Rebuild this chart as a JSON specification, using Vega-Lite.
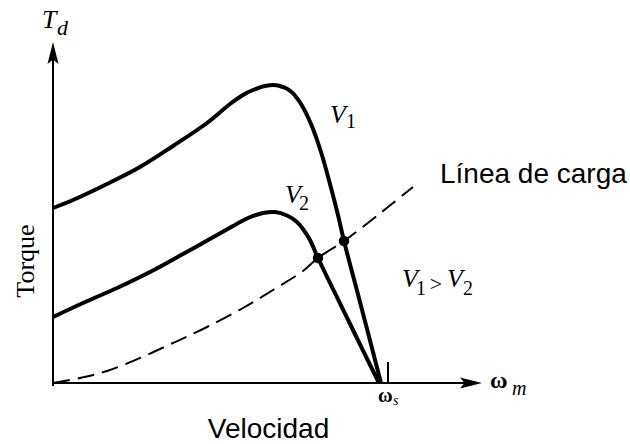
{
  "$schema": "https://vega.github.io/schema/vega-lite/v6.json",
  "width": 630,
  "height": 444,
  "padding": 0,
  "autosize": "none",
  "background": "white",
  "config": {"view": {"stroke": null}},
  "datasets": {
    "load": [
      {"x": 0, "y": 0}, {"x": 27, "y": 5}, {"x": 54, "y": 12}, {"x": 87, "y": 25},
      {"x": 120, "y": 40}, {"x": 154, "y": 56}, {"x": 190, "y": 75}, {"x": 220, "y": 93},
      {"x": 250, "y": 112}, {"x": 265, "y": 125}, {"x": 291, "y": 142}, {"x": 320, "y": 164},
      {"x": 340, "y": 180}, {"x": 360, "y": 196}
    ],
    "curves": [
      {"curve": "V1", "x": 0, "y": 175}, {"curve": "V1", "x": 20, "y": 183},
      {"curve": "V1", "x": 54, "y": 199}, {"curve": "V1", "x": 87, "y": 216},
      {"curve": "V1", "x": 120, "y": 237}, {"curve": "V1", "x": 154, "y": 260},
      {"curve": "V1", "x": 177, "y": 279}, {"curve": "V1", "x": 190, "y": 288},
      {"curve": "V1", "x": 200, "y": 293}, {"curve": "V1", "x": 212, "y": 297},
      {"curve": "V1", "x": 225, "y": 297.5}, {"curve": "V1", "x": 238, "y": 291.5},
      {"curve": "V1", "x": 248, "y": 279}, {"curve": "V1", "x": 258, "y": 259},
      {"curve": "V1", "x": 268, "y": 231}, {"curve": "V1", "x": 277, "y": 199},
      {"curve": "V1", "x": 285, "y": 168}, {"curve": "V1", "x": 291, "y": 142},
      {"curve": "V1", "x": 307, "y": 81}, {"curve": "V1", "x": 328, "y": 0},
      {"curve": "V2", "x": 0, "y": 66}, {"curve": "V2", "x": 30, "y": 80},
      {"curve": "V2", "x": 64, "y": 95}, {"curve": "V2", "x": 97, "y": 111},
      {"curve": "V2", "x": 130, "y": 129}, {"curve": "V2", "x": 164, "y": 148},
      {"curve": "V2", "x": 180, "y": 157}, {"curve": "V2", "x": 195, "y": 165},
      {"curve": "V2", "x": 210, "y": 170}, {"curve": "V2", "x": 222, "y": 171},
      {"curve": "V2", "x": 234, "y": 167.5}, {"curve": "V2", "x": 244, "y": 161},
      {"curve": "V2", "x": 250, "y": 154}, {"curve": "V2", "x": 257, "y": 143},
      {"curve": "V2", "x": 265, "y": 125}, {"curve": "V2", "x": 280, "y": 94},
      {"curve": "V2", "x": 300, "y": 53}, {"curve": "V2", "x": 326, "y": 0}
    ],
    "operating": [
      {"curve": "V1", "x": 291, "y": 142},
      {"curve": "V2", "x": 265, "y": 125}
    ],
    "axes": [
      {"part": "torque axis", "x": 0, "y": -3, "x2": 0, "y2": 325},
      {"part": "speed axis", "x": -1, "y": 0, "x2": 412, "y2": 0},
      {"part": "synchronous speed", "x": 335, "y": 0, "x2": 335, "y2": 21}
    ]
  },
  "encoding": {
    "x": {"field": "x", "type": "quantitative", "scale": {"domain": [-53, 577], "nice": false, "zero": false}, "axis": null},
    "y": {"field": "y", "type": "quantitative", "scale": {"domain": [-61, 383], "nice": false, "zero": false}, "axis": null}
  },
  "layer": [
    {
      "data": {"name": "load"},
      "mark": {"type": "line", "color": "black", "strokeWidth": 2, "strokeDash": [17, 8], "interpolate": "catmull-rom"}
    },
    {
      "data": {"name": "curves"},
      "mark": {"type": "line", "color": "black", "strokeWidth": 4, "interpolate": "catmull-rom"},
      "encoding": {"detail": {"field": "curve"}}
    },
    {
      "data": {"name": "axes"},
      "mark": {"type": "rule", "color": "black", "strokeWidth": 2},
      "encoding": {"x2": {"field": "x2"}, "y2": {"field": "y2"}}
    },
    {
      "data": {"values": [{"x": 0, "y": 330}]},
      "mark": {"type": "point", "shape": "M0,-1L0.5,1L0,0.6L-0.5,1Z", "size": 484, "filled": true, "color": "black", "opacity": 1, "strokeWidth": 0}
    },
    {
      "data": {"values": [{"x": 418, "y": 0}]},
      "mark": {"type": "point", "shape": "M1,0L-1,0.5L-0.6,0L-1,-0.5Z", "size": 484, "filled": true, "color": "black", "opacity": 1, "strokeWidth": 0}
    },
    {
      "data": {"name": "operating"},
      "mark": {"type": "point", "shape": "circle", "size": 110, "filled": true, "color": "black", "opacity": 1}
    },
    {
      "data": {"values": [
        {"label": "T", "x": -11, "y": 355},
        {"label": "V", "x": 277, "y": 260},
        {"label": "V", "x": 232, "y": 180},
        {"label": "V", "x": 349, "y": 96},
        {"label": "V", "x": 394, "y": 96}
      ]},
      "mark": {"type": "text", "font": "Liberation Serif", "fontStyle": "italic", "fontSize": 26, "align": "left", "baseline": "alphabetic", "color": "black"},
      "encoding": {"text": {"field": "label"}}
    },
    {
      "data": {"values": [
        {"label": "1", "x": 293, "y": 255},
        {"label": "2", "x": 246, "y": 173},
        {"label": "1", "x": 363, "y": 88},
        {"label": "2", "x": 410, "y": 88}
      ]},
      "mark": {"type": "text", "font": "Liberation Serif", "fontSize": 20, "align": "left", "baseline": "alphabetic", "color": "black"},
      "encoding": {"text": {"field": "label"}}
    },
    {
      "data": {"values": [{"label": ">", "x": 383, "y": 92}]},
      "mark": {"type": "text", "font": "Liberation Serif", "fontSize": 22, "align": "center", "baseline": "alphabetic", "color": "black"},
      "encoding": {"text": {"field": "label"}}
    },
    {
      "data": {"values": [{"label": "d", "x": 4, "y": 348}]},
      "mark": {"type": "text", "font": "Liberation Serif", "fontStyle": "italic", "fontSize": 22, "align": "left", "baseline": "alphabetic", "color": "black"},
      "encoding": {"text": {"field": "label"}}
    },
    {
      "data": {"values": [{"label": "m", "x": 459, "y": -12}]},
      "mark": {"type": "text", "font": "Liberation Serif", "fontStyle": "italic", "fontSize": 20, "align": "left", "baseline": "alphabetic", "color": "black"},
      "encoding": {"text": {"field": "label"}}
    },
    {
      "data": {"values": [{"label": "s", "x": 340, "y": -22}]},
      "mark": {"type": "text", "font": "Liberation Serif", "fontStyle": "italic", "fontSize": 14, "align": "left", "baseline": "alphabetic", "color": "black"},
      "encoding": {"text": {"field": "label"}}
    },
    {
      "data": {"values": [{"label": "ω", "x": 437, "y": -5}]},
      "mark": {"type": "text", "font": "Liberation Serif", "fontWeight": "bold", "fontSize": 24, "align": "left", "baseline": "alphabetic", "color": "black"},
      "encoding": {"text": {"field": "label"}}
    },
    {
      "data": {"values": [{"label": "ω", "x": 325, "y": -19}]},
      "mark": {"type": "text", "font": "Liberation Serif", "fontWeight": "bold", "fontSize": 20, "align": "left", "baseline": "alphabetic", "color": "black"},
      "encoding": {"text": {"field": "label"}}
    },
    {
      "data": {"values": [{"label": "Torque", "x": -19, "y": 122}]},
      "mark": {"type": "text", "font": "Liberation Serif", "fontSize": 26, "angle": -90, "align": "center", "baseline": "alphabetic", "color": "black"},
      "encoding": {"text": {"field": "label"}}
    },
    {
      "data": {"values": [{"label": "Velocidad", "x": 215.5, "y": -55}]},
      "mark": {"type": "text", "font": "Liberation Sans", "fontSize": 28, "align": "center", "baseline": "alphabetic", "color": "black"},
      "encoding": {"text": {"field": "label"}}
    },
    {
      "data": {"values": [{"label": "Línea de carga", "x": 387, "y": 200}]},
      "mark": {"type": "text", "font": "Liberation Sans", "fontSize": 28, "align": "left", "baseline": "alphabetic", "color": "black"},
      "encoding": {"text": {"field": "label"}}
    }
  ]
}
